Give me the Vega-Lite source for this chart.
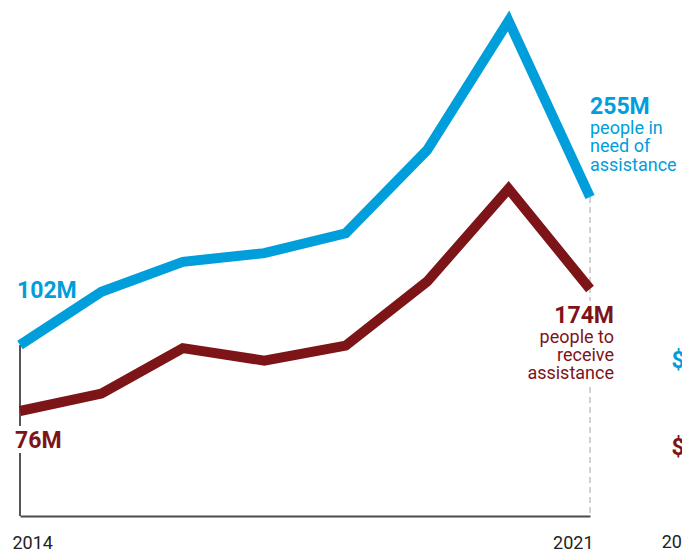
{
  "$schema": "https://vega.github.io/schema/vega-lite/v6.json",
  "width": 570,
  "height": 516,
  "autosize": "none",
  "padding": {"left": 20, "top": 0, "right": 92, "bottom": 34},
  "background": "white",
  "config": {
    "view": {"stroke": null},
    "font": "Roboto",
    "text": {"font": "Roboto"}
  },
  "datasets": {
    "series": [
      {"year": 2014, "series": "need", "value": 102},
      {"year": 2015, "series": "need", "value": 157},
      {"year": 2016, "series": "need", "value": 188},
      {"year": 2017, "series": "need", "value": 197},
      {"year": 2018, "series": "need", "value": 217.5},
      {"year": 2019, "series": "need", "value": 303.5},
      {"year": 2020, "series": "need", "value": 437},
      {"year": 2021, "series": "need", "value": 255},
      {"year": 2014, "series": "receive", "value": 76},
      {"year": 2015, "series": "receive", "value": 90},
      {"year": 2016, "series": "receive", "value": 126.5},
      {"year": 2017, "series": "receive", "value": 116.5},
      {"year": 2018, "series": "receive", "value": 128.5},
      {"year": 2019, "series": "receive", "value": 180},
      {"year": 2020, "series": "receive", "value": 254.5},
      {"year": 2021, "series": "receive", "value": 174}
    ],
    "labels": [
      {"year": 2014, "series": "need", "value": 102, "big": "102M", "desc": ""},
      {"year": 2014, "series": "receive", "value": 76, "big": "76M", "desc": ""},
      {"year": 2021, "series": "need", "value": 255, "big": "255M", "desc": "people in\nneed of\nassistance"},
      {"year": 2021, "series": "receive", "value": 174, "big": "174M", "desc": "people to\nreceive\nassistance"}
    ],
    "next": [
      {"year": 2022, "series": "need", "value": 78, "text": "$"},
      {"year": 2022, "series": "receive", "value": 41, "text": "$"}
    ],
    "nextAxis": [
      {"year": 2021.88, "text": "2014"}
    ]
  },
  "encoding": {
    "x": {
      "field": "year",
      "type": "quantitative",
      "scale": {"domain": [2014, 2021], "nice": false, "zero": false},
      "axis": {
        "values": [2014, 2021],
        "format": "d",
        "title": null,
        "grid": false,
        "ticks": false,
        "domainColor": "#4a4a4a",
        "domainWidth": 2,
        "labelFont": "Roboto",
        "labelFontSize": 18,
        "labelColor": "#222222",
        "labelPadding": 32,
        "labelBaseline": "alphabetic",
        "labelAlign": {"condition": {"test": "datum.value == 2014", "value": "left"}, "value": "right"},
        "labelOffset": {"condition": {"test": "datum.value == 2014", "value": -8}, "value": 3}
      }
    }
  },
  "layer": [
    {
      "data": {"name": "series"},
      "transform": [{"filter": "datum.series == 'need' && datum.year == 2014"}],
      "mark": {"type": "rule", "color": "#555555", "strokeWidth": 2},
      "encoding": {
        "y": {"field": "value", "type": "quantitative", "scale": {"domain": [-74.78, 458.66], "nice": false, "zero": false}, "axis": null},
        "y2": {"value": "height"}
      }
    },
    {
      "data": {"name": "series"},
      "transform": [{"filter": "datum.series == 'need' && datum.year == 2021"}],
      "mark": {"type": "rule", "color": "#c4c4c4", "strokeWidth": 1.5, "strokeDash": [6, 4]},
      "encoding": {
        "y": {"field": "value", "type": "quantitative", "scale": {"domain": [-74.78, 458.66], "nice": false, "zero": false}, "axis": null},
        "y2": {"value": "height"}
      }
    },
    {
      "data": {"name": "labels"},
      "transform": [{"filter": "datum.series == 'receive' && datum.year == 2014"}],
      "mark": {"type": "text", "font": "Roboto", "fontWeight": "bold", "fontSize": 23, "align": "left", "baseline": "alphabetic", "dx": -5, "dy": 37, "fill": "white", "stroke": "white", "strokeWidth": 10, "strokeJoin": "round"},
      "encoding": {
        "y": {"field": "value", "type": "quantitative", "scale": {"domain": [-8.34, 406.15], "nice": false, "zero": false}, "axis": null},
        "text": {"field": "big"}
      }
    },
    {
      "data": {"name": "labels"},
      "transform": [{"filter": "datum.series == 'receive' && datum.year == 2021"}],
      "mark": {"type": "text", "font": "Roboto", "fontWeight": "bold", "fontSize": 23, "align": "right", "baseline": "alphabetic", "dx": 24, "dy": 34, "fill": "white", "stroke": "white", "strokeWidth": 10, "strokeJoin": "round"},
      "encoding": {
        "y": {"field": "value", "type": "quantitative", "scale": {"domain": [-8.34, 406.15], "nice": false, "zero": false}, "axis": null},
        "text": {"field": "big"}
      }
    },
    {
      "data": {"name": "labels"},
      "transform": [{"filter": "datum.series == 'receive' && datum.year == 2021"}],
      "mark": {"type": "text", "font": "Roboto", "fontSize": 18, "lineHeight": 18, "lineBreak": "\n", "align": "right", "baseline": "alphabetic", "dx": 24, "dy": 54, "fill": "white", "stroke": "white", "strokeWidth": 11, "strokeJoin": "round"},
      "encoding": {
        "y": {"field": "value", "type": "quantitative", "scale": {"domain": [-8.34, 406.15], "nice": false, "zero": false}, "axis": null},
        "text": {"field": "desc"}
      }
    },
    {
      "data": {"name": "series"},
      "transform": [{"filter": "datum.series == 'need'"}],
      "mark": {"type": "line", "color": "#009edb", "strokeWidth": 10, "strokeJoin": "miter", "strokeCap": "butt"},
      "encoding": {
        "y": {"field": "value", "type": "quantitative", "scale": {"domain": [-74.78, 458.66], "nice": false, "zero": false}, "axis": null}
      }
    },
    {
      "data": {"name": "series"},
      "transform": [{"filter": "datum.series == 'receive'"}],
      "mark": {"type": "line", "color": "#7d1418", "strokeWidth": 10, "strokeJoin": "miter", "strokeCap": "butt"},
      "encoding": {
        "y": {"field": "value", "type": "quantitative", "scale": {"domain": [-8.34, 406.15], "nice": false, "zero": false}, "axis": null}
      }
    },
    {
      "data": {"name": "labels"},
      "transform": [{"filter": "datum.series == 'need' && datum.year == 2014"}],
      "mark": {"type": "text", "font": "Roboto", "fontWeight": "bold", "fontSize": 23, "align": "left", "baseline": "alphabetic", "dx": -3, "dy": -47, "color": "#009edb"},
      "encoding": {
        "y": {"field": "value", "type": "quantitative", "scale": {"domain": [-74.78, 458.66], "nice": false, "zero": false}, "axis": null},
        "text": {"field": "big"}
      }
    },
    {
      "data": {"name": "labels"},
      "transform": [{"filter": "datum.series == 'receive' && datum.year == 2014"}],
      "mark": {"type": "text", "font": "Roboto", "fontWeight": "bold", "fontSize": 23, "align": "left", "baseline": "alphabetic", "dx": -5, "dy": 37, "color": "#7d1418"},
      "encoding": {
        "y": {"field": "value", "type": "quantitative", "scale": {"domain": [-8.34, 406.15], "nice": false, "zero": false}, "axis": null},
        "text": {"field": "big"}
      }
    },
    {
      "data": {"name": "labels"},
      "transform": [{"filter": "datum.series == 'need' && datum.year == 2021"}],
      "mark": {"type": "text", "font": "Roboto", "fontWeight": "bold", "fontSize": 23, "align": "left", "baseline": "alphabetic", "dx": 0, "dy": -83, "color": "#009edb"},
      "encoding": {
        "y": {"field": "value", "type": "quantitative", "scale": {"domain": [-74.78, 458.66], "nice": false, "zero": false}, "axis": null},
        "text": {"field": "big"}
      }
    },
    {
      "data": {"name": "labels"},
      "transform": [{"filter": "datum.series == 'need' && datum.year == 2021"}],
      "mark": {"type": "text", "font": "Roboto", "fontSize": 18, "lineHeight": 18.3, "lineBreak": "\n", "align": "left", "baseline": "alphabetic", "dx": 0, "dy": -63, "color": "#009edb"},
      "encoding": {
        "y": {"field": "value", "type": "quantitative", "scale": {"domain": [-74.78, 458.66], "nice": false, "zero": false}, "axis": null},
        "text": {"field": "desc"}
      }
    },
    {
      "data": {"name": "labels"},
      "transform": [{"filter": "datum.series == 'receive' && datum.year == 2021"}],
      "mark": {"type": "text", "font": "Roboto", "fontWeight": "bold", "fontSize": 23, "align": "right", "baseline": "alphabetic", "dx": 24, "dy": 34, "color": "#7d1418"},
      "encoding": {
        "y": {"field": "value", "type": "quantitative", "scale": {"domain": [-8.34, 406.15], "nice": false, "zero": false}, "axis": null},
        "text": {"field": "big"}
      }
    },
    {
      "data": {"name": "labels"},
      "transform": [{"filter": "datum.series == 'receive' && datum.year == 2021"}],
      "mark": {"type": "text", "font": "Roboto", "fontSize": 18, "lineHeight": 18, "lineBreak": "\n", "align": "right", "baseline": "alphabetic", "dx": 24, "dy": 54, "color": "#7d1418"},
      "encoding": {
        "y": {"field": "value", "type": "quantitative", "scale": {"domain": [-8.34, 406.15], "nice": false, "zero": false}, "axis": null},
        "text": {"field": "desc"}
      }
    },
    {
      "data": {"name": "next"},
      "transform": [{"filter": "datum.series == 'need'"}],
      "mark": {"type": "text", "font": "Roboto", "fontWeight": "bold", "fontSize": 23, "align": "left", "baseline": "alphabetic", "color": "#009edb"},
      "encoding": {
        "y": {"field": "value", "type": "quantitative", "scale": {"domain": [-74.78, 458.66], "nice": false, "zero": false}, "axis": null},
        "text": {"field": "text"}
      }
    },
    {
      "data": {"name": "next"},
      "transform": [{"filter": "datum.series == 'receive'"}],
      "mark": {"type": "text", "font": "Roboto", "fontWeight": "bold", "fontSize": 23, "align": "left", "baseline": "alphabetic", "color": "#7d1418"},
      "encoding": {
        "y": {"field": "value", "type": "quantitative", "scale": {"domain": [-8.34, 406.15], "nice": false, "zero": false}, "axis": null},
        "text": {"field": "text"}
      }
    },
    {
      "data": {"name": "nextAxis"},
      "mark": {"type": "text", "font": "Roboto", "fontSize": 18, "align": "left", "baseline": "alphabetic", "dy": 32, "color": "#222222"},
      "encoding": {
        "y": {"value": "height"},
        "text": {"field": "text"}
      }
    }
  ],
  "resolve": {"scale": {"y": "independent"}}
}
